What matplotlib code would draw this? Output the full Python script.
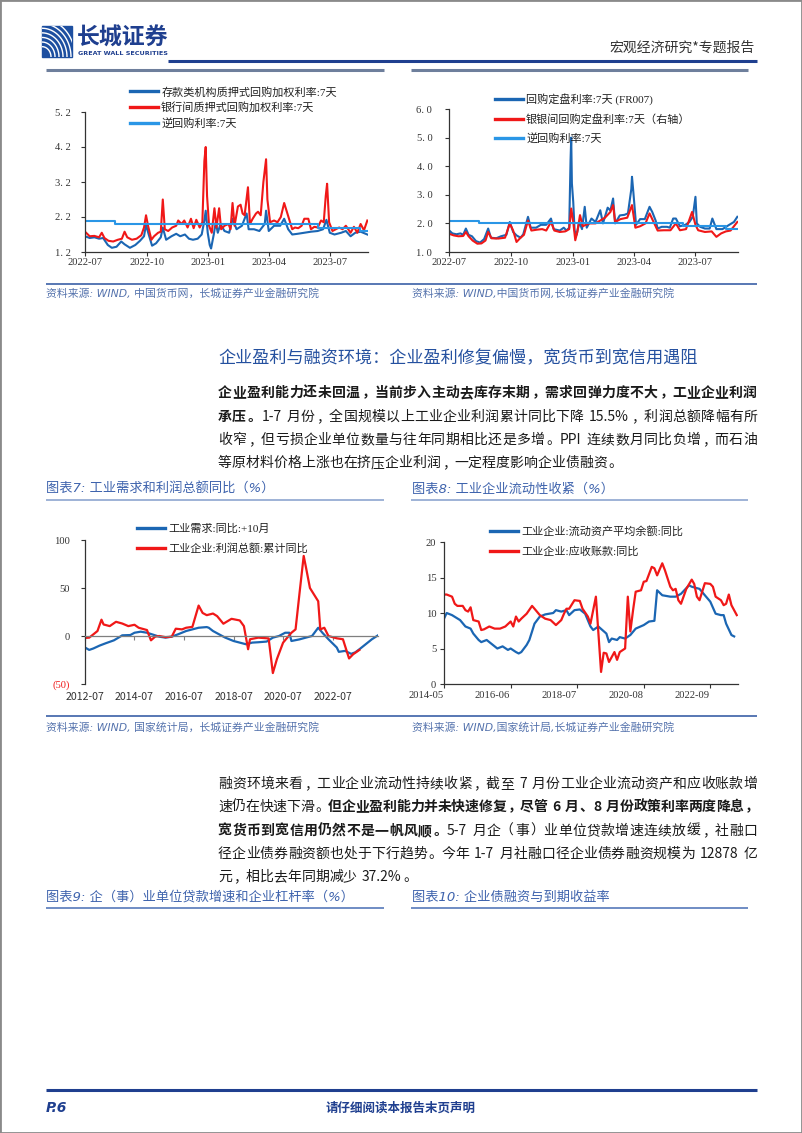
import matplotlib
matplotlib.use('Agg')
import matplotlib.pyplot as plt
import matplotlib.dates as mdates
from matplotlib.patches import Rectangle
from matplotlib.lines import Line2D
from matplotlib.ticker import FuncFormatter
from matplotlib.transforms import ScaledTranslation
import numpy as np
import pandas as pd

# ---------------- data ----------------
# Chart 1: 存款类机构质押式回购加权利率 / 银行间质押式回购加权利率 / 逆回购利率
c1_dr_dates = ['2022-07-01', '2022-07-08', '2022-07-15', '2022-07-22', '2022-07-28', '2022-08-04', '2022-08-10',
               '2022-08-17', '2022-08-24', '2022-08-29', '2022-09-06', '2022-09-14', '2022-09-21', '2022-09-27',
               '2022-09-30', '2022-10-04', '2022-10-09', '2022-10-15', '2022-10-22', '2022-10-25', '2022-10-30',
               '2022-11-07', '2022-11-14', '2022-11-20', '2022-11-27', '2022-12-03', '2022-12-09', '2022-12-16',
               '2022-12-22', '2022-12-26', '2022-12-28', '2022-12-31', '2023-01-03', '2023-01-05', '2023-01-09',
               '2023-01-12', '2023-01-15', '2023-01-19', '2023-01-25', '2023-02-01', '2023-02-06', '2023-02-12',
               '2023-02-20', '2023-02-27', '2023-03-02', '2023-03-10', '2023-03-18', '2023-03-26', '2023-03-28',
               '2023-04-01', '2023-04-09', '2023-04-18', '2023-04-24', '2023-04-30', '2023-05-06', '2023-05-14',
               '2023-05-24', '2023-06-03', '2023-06-13', '2023-06-21', '2023-06-26', '2023-07-01', '2023-07-08',
               '2023-07-18', '2023-07-25', '2023-08-01', '2023-08-08', '2023-08-16', '2023-08-26']
c1_dr_vals = [1.65, 1.60, 1.62, 1.58, 1.60, 1.40, 1.32,
              1.35, 1.50, 1.42, 1.32, 1.40, 1.52, 1.65,
              1.98, 1.70, 1.38, 1.45, 1.62, 1.90, 1.55,
              1.65, 1.72, 1.65, 1.70, 1.58, 1.55, 1.58,
              1.70, 2.10, 2.38, 1.75, 1.40, 1.30, 1.70,
              2.05, 1.75, 2.00, 1.80, 1.75, 2.15, 1.85,
              1.95, 2.30, 1.85, 1.85, 1.80, 2.00, 2.38,
              1.80, 1.95, 1.95, 2.15, 1.85, 1.70, 1.72,
              1.75, 1.78, 1.80, 1.85, 2.12, 1.75, 1.70,
              1.75, 1.80, 1.65, 1.75, 1.78, 1.70]

c1_r_dates = ['2022-07-01', '2022-07-08', '2022-07-15', '2022-07-22', '2022-07-26', '2022-07-30', '2022-08-05',
              '2022-08-12', '2022-08-19', '2022-08-25', '2022-08-29', '2022-09-02', '2022-09-09', '2022-09-16',
              '2022-09-23', '2022-09-27', '2022-09-30', '2022-10-03', '2022-10-08', '2022-10-12', '2022-10-18',
              '2022-10-22', '2022-10-25', '2022-10-28', '2022-11-02', '2022-11-08', '2022-11-14', '2022-11-17',
              '2022-11-22', '2022-11-26', '2022-12-01', '2022-12-06', '2022-12-10', '2022-12-14', '2022-12-19',
              '2022-12-23', '2022-12-26', '2022-12-28', '2022-12-30', '2023-01-02', '2023-01-06', '2023-01-10',
              '2023-01-13', '2023-01-17', '2023-01-20', '2023-01-25', '2023-01-31', '2023-02-03', '2023-02-06',
              '2023-02-09', '2023-02-14', '2023-02-18', '2023-02-21', '2023-02-24', '2023-03-01', '2023-03-04',
              '2023-03-08', '2023-03-13', '2023-03-16', '2023-03-20', '2023-03-24', '2023-03-28', '2023-03-30',
              '2023-04-03', '2023-04-09', '2023-04-14', '2023-04-19', '2023-04-24', '2023-04-28', '2023-05-02',
              '2023-05-06', '2023-05-10', '2023-05-15', '2023-05-20', '2023-05-24', '2023-05-30', '2023-06-03',
              '2023-06-08', '2023-06-13', '2023-06-18', '2023-06-22', '2023-06-25', '2023-06-27', '2023-06-30',
              '2023-07-05', '2023-07-10', '2023-07-15', '2023-07-20', '2023-07-25', '2023-08-01', '2023-08-06',
              '2023-08-11', '2023-08-16', '2023-08-21', '2023-08-26']
c1_r_vals = [1.78, 1.65, 1.66, 1.62, 1.75, 1.60, 1.52,
             1.50, 1.55, 1.58, 1.78, 1.62, 1.55, 1.58,
             1.68, 1.90, 2.25, 1.95, 1.55, 1.65, 1.75,
             1.78, 2.70, 1.85, 1.80, 1.90, 1.95, 2.10,
             2.00, 2.10, 1.90, 2.15, 1.88, 2.12, 1.90,
             2.05, 3.80, 4.20, 2.80, 1.95, 1.75, 2.45,
             1.90, 2.45, 1.85, 1.95, 2.00, 1.85, 2.60,
             1.95, 2.50, 2.55, 2.30, 2.25, 3.05, 2.00,
             2.15, 2.30, 2.35, 2.25, 3.20, 3.85, 2.70,
             2.05, 2.10, 2.05, 2.20, 2.60, 2.35, 2.10,
             1.85, 1.90, 1.88, 1.95, 2.15, 2.15, 1.85,
             1.92, 1.90, 2.10, 2.05, 2.80, 3.15, 2.05,
             1.80, 1.85, 1.90, 1.85, 1.95, 1.75, 1.92,
             1.75, 2.00, 1.82, 2.10]

policy_dates = ['2022-07-01', '2022-08-15', '2023-06-13', '2023-08-15', '2023-09-02']
policy_vals = [2.1, 2.0, 1.9, 1.8, 1.8]

# Chart 2: 回购定盘利率 FR007 / 银银间回购定盘利率
c2_fr_dates = ['2022-07-01', '2022-07-06', '2022-07-12', '2022-07-18', '2022-07-22', '2022-07-26', '2022-07-30',
               '2022-08-04', '2022-08-10', '2022-08-16', '2022-08-22', '2022-08-28', '2022-09-01', '2022-09-09',
               '2022-09-16', '2022-09-24', '2022-09-29', '2022-10-04', '2022-10-09', '2022-10-15', '2022-10-19',
               '2022-10-26', '2022-10-30', '2022-11-07', '2022-11-14', '2022-11-22', '2022-11-29', '2022-12-03',
               '2022-12-12', '2022-12-18', '2022-12-22', '2022-12-26', '2022-12-28', '2022-12-29', '2022-12-30',
               '2023-01-01', '2023-01-03', '2023-01-06', '2023-01-10', '2023-01-14', '2023-01-18', '2023-01-21',
               '2023-01-28', '2023-02-03', '2023-02-10', '2023-02-14', '2023-02-21', '2023-02-25', '2023-03-01',
               '2023-03-04', '2023-03-11', '2023-03-18', '2023-03-23', '2023-03-28', '2023-03-29', '2023-03-31',
               '2023-04-04', '2023-04-10', '2023-04-17', '2023-04-24', '2023-04-28', '2023-05-03', '2023-05-06',
               '2023-05-12', '2023-05-20', '2023-05-24', '2023-05-29', '2023-06-02', '2023-06-08', '2023-06-16',
               '2023-06-22', '2023-06-27', '2023-07-01', '2023-07-03', '2023-07-08', '2023-07-15', '2023-07-22',
               '2023-07-26', '2023-08-01', '2023-08-10', '2023-08-20', '2023-08-27', '2023-09-01']
c2_fr_vals = [1.76, 1.65, 1.62, 1.65, 1.60, 1.82, 1.60,
              1.55, 1.38, 1.33, 1.45, 1.82, 1.50, 1.48,
              1.55, 1.60, 2.05, 1.70, 1.58, 1.50, 1.62,
              2.23, 1.85, 1.85, 1.95, 1.95, 2.17, 1.80,
              1.75, 1.85, 1.75, 1.85, 4.20, 5.00, 3.40,
              2.75, 1.75, 1.60, 2.05, 1.80, 2.58, 1.85,
              2.17, 2.05, 2.46, 2.00, 2.55, 2.45, 2.87,
              2.00, 2.28, 2.30, 2.35, 3.20, 3.63, 3.10,
              1.95, 2.15, 2.15, 2.58, 2.40, 2.10, 1.82,
              1.88, 1.88, 1.85, 2.17, 2.17, 1.90, 1.95,
              2.05, 2.23, 2.93, 2.00, 1.88, 1.82, 1.82,
              2.17, 1.80, 1.80, 1.95, 2.05, 2.23]

c2_dr_dates = ['2022-07-01', '2022-07-08', '2022-07-15', '2022-07-22', '2022-07-26', '2022-07-30', '2022-08-05',
               '2022-08-12', '2022-08-18', '2022-08-24', '2022-08-28', '2022-09-02', '2022-09-12', '2022-09-22',
               '2022-09-29', '2022-10-04', '2022-10-09', '2022-10-15', '2022-10-20', '2022-10-26', '2022-10-31',
               '2022-11-08', '2022-11-16', '2022-11-22', '2022-11-29', '2022-12-04', '2022-12-12', '2022-12-20',
               '2022-12-26', '2022-12-29', '2023-01-01', '2023-01-04', '2023-01-07', '2023-01-11', '2023-01-15',
               '2023-01-24', '2023-02-03', '2023-02-10', '2023-02-17', '2023-02-25', '2023-03-01', '2023-03-04',
               '2023-03-12', '2023-03-22', '2023-03-29', '2023-04-03', '2023-04-10', '2023-04-18', '2023-04-24',
               '2023-05-03', '2023-05-06', '2023-05-15', '2023-05-25', '2023-06-02', '2023-06-08', '2023-06-17',
               '2023-06-26', '2023-07-01', '2023-07-05', '2023-07-15', '2023-07-25', '2023-08-01', '2023-08-08',
               '2023-08-15', '2023-08-22', '2023-09-01']
c2_dr_vals = [1.64, 1.58, 1.55, 1.56, 1.70, 1.55, 1.40,
              1.29, 1.30, 1.40, 1.70, 1.48, 1.47, 1.50,
              2.00, 1.75, 1.35, 1.50, 1.60, 2.10, 1.75,
              1.78, 1.80, 1.75, 2.05, 1.75, 1.70, 1.72,
              1.80, 2.52, 2.05, 1.41, 1.70, 2.29, 1.90,
              2.00, 2.00, 2.10, 2.20, 2.40, 2.64, 2.05,
              2.15, 2.20, 2.64, 1.85, 1.90, 2.00, 2.35,
              1.90, 1.75, 1.76, 1.76, 2.00, 1.76, 1.80,
              2.40, 1.95, 1.76, 1.70, 1.72, 1.53, 1.65,
              1.72, 1.75, 2.05]

# Chart 3: 工业需求:同比:+10月 / 工业企业:利润总额:累计同比
c3_demand_dates = ['2012-07', '2012-09', '2012-11', '2013-02', '2013-05', '2013-09', '2013-12', '2014-01',
                   '2014-05', '2014-07', '2014-10', '2015-01', '2015-04', '2015-07', '2015-10', '2016-01',
                   '2016-04', '2016-08', '2016-11', '2017-02', '2017-06', '2017-07', '2017-09', '2017-12',
                   '2018-03', '2018-07', '2018-10', '2019-01', '2019-04', '2019-07', '2019-11', '2020-02',
                   '2020-05', '2020-08', '2020-10', '2020-11', '2021-03', '2021-06', '2021-09', '2021-12',
                   '2022-02', '2022-05', '2022-09', '2022-10', '2023-01', '2023-04', '2023-06', '2023-08',
                   '2023-11', '2024-02', '2024-05']
c3_demand_vals = [-12, -14.5, -13, -10, -7.6, -4.5, -0.7, 0.7,
                  1, 3.4, 4.5, 3.4, 1.4, -0.7, -1.7, -0.7,
                  1.7, 5.2, 6.9, 8.6, 9.3, 8.6, 5.2, 1.7,
                  -1.7, -5.2, -6.9, -8.6, -6.9, -6.5, -5.8, -1.7,
                  0, 3.4, 3.4, -5.2, -3.5, -1.7, 0, 8.6,
                  3.4, -3.4, -12, -16.5, -15.5, -18.6, -17, -13.8,
                  -8.6, -3.4, 0.7]

c3_profit_dates = ['2012-07', '2012-09', '2012-11', '2013-01', '2013-03', '2013-04', '2013-07', '2013-10',
                   '2014-01', '2014-04', '2014-07', '2014-09', '2015-01', '2015-03', '2015-05', '2015-07',
                   '2015-10', '2016-01', '2016-03', '2016-06', '2016-08', '2016-11', '2017-02', '2017-04',
                   '2017-06', '2017-09', '2017-11', '2018-02', '2018-06', '2018-10', '2018-12', '2019-02',
                   '2019-03', '2019-07', '2019-12', '2020-02', '2020-04', '2020-07', '2020-11', '2021-01',
                   '2021-03', '2021-05', '2021-06', '2021-08', '2021-12', '2022-01', '2022-03', '2022-05',
                   '2022-09', '2022-12', '2023-03', '2023-05', '2023-08']
c3_profit_vals = [-2, -1.7, 1.7, 5.2, 17, 12, 10.3, 14.8,
                  13, 10.3, 11.7, 8.6, 6.2, -4.5, -0.7, 0,
                  -1.2, -0.7, 7.6, 6.9, 8.6, 9.5, 31.7, 24,
                  21.7, 23.4, 20.7, 12.8, 17.9, 16.2, 10.3, -13.8,
                  -3.4, -1.7, -2.5, -38.6, -24, -6.9, 3.4, 6.9,
                  45, 83.4, 72.4, 50, 36.2, 6.9, 8.6, 0,
                  -2.4, -3.4, -23.4, -19, -14.5]

# Chart 4: 工业企业:流动资产平均余额:同比 / 工业企业:应收账款:同比
c4_asset_dates = ['2014-05', '2014-06', '2014-08', '2014-11', '2015-01', '2015-03', '2015-04', '2015-06',
                  '2015-07', '2015-09', '2015-11', '2016-01', '2016-03', '2016-05', '2016-06', '2016-08',
                  '2016-09', '2016-10', '2016-12', '2017-01', '2017-02', '2017-03', '2017-05', '2017-07',
                  '2017-10', '2017-11', '2018-01', '2018-03', '2018-04', '2018-06', '2018-08', '2018-10',
                  '2018-12', '2019-01', '2019-03', '2019-06', '2019-07', '2019-08', '2019-10', '2019-11',
                  '2020-01', '2020-03', '2020-05', '2020-08', '2020-10', '2020-12', '2021-01', '2021-03',
                  '2021-06', '2021-08', '2021-10', '2022-01', '2022-02', '2022-05', '2022-07', '2022-09',
                  '2022-11', '2023-01', '2023-02', '2023-03', '2023-05', '2023-06']
c4_asset_vals = [9.2, 10.0, 9.7, 9.0, 8.1, 7.8, 7.1, 6.2,
                 5.9, 6.2, 5.6, 5.0, 5.3, 4.8, 5.0, 4.5,
                 4.3, 4.5, 5.5, 6.2, 7.4, 8.5, 9.5, 9.8,
                 10.0, 10.4, 10.2, 10.4, 9.7, 10.4, 10.5, 9.9,
                 8.1, 7.6, 8.1, 7.1, 5.9, 6.4, 6.2, 6.6,
                 6.4, 6.9, 7.8, 8.3, 8.8, 8.9, 13.2, 12.5,
                 12.3, 12.3, 12.7, 13.9, 13.7, 13.4, 12.5, 11.6,
                 9.9, 9.7, 9.7, 8.5, 6.9, 6.7]

c4_recv_dates = ['2014-05', '2014-06', '2014-08', '2014-09', '2014-10', '2014-12', '2015-01', '2015-02',
                 '2015-03', '2015-04', '2015-06', '2015-07', '2015-08', '2015-10', '2015-12', '2016-02',
                 '2016-04', '2016-06', '2016-07', '2016-08', '2016-09', '2016-10', '2016-12', '2017-02',
                 '2017-03', '2017-05', '2017-07', '2017-09', '2017-11', '2018-01', '2018-02', '2018-03',
                 '2018-04', '2018-06', '2018-08', '2018-09', '2018-11', '2018-12', '2019-02', '2019-04',
                 '2019-05', '2019-06', '2019-07', '2019-09', '2019-10', '2019-11', '2020-01', '2020-02',
                 '2020-03', '2020-04', '2020-05', '2020-07', '2020-08', '2020-09', '2020-11', '2020-12',
                 '2021-01', '2021-03', '2021-04', '2021-06', '2021-07', '2021-08', '2021-09', '2021-10',
                 '2021-12', '2022-02', '2022-03', '2022-04', '2022-05', '2022-07', '2022-09', '2022-10',
                 '2022-11', '2023-01', '2023-02', '2023-03', '2023-04', '2023-05', '2023-07']
c4_recv_vals = [12.6, 12.6, 12.3, 11.3, 11.0, 11.0, 10.4, 10.2,
                10.8, 9.0, 8.8, 7.6, 7.7, 8.1, 7.8, 7.8,
                8.1, 8.8, 8.1, 9.5, 8.8, 9.2, 9.9, 11.0,
                10.6, 9.7, 9.2, 9.0, 8.3, 9.0, 9.9, 10.6,
                10.6, 11.8, 11.7, 10.6, 9.5, 8.5, 12.3, 1.7,
                4.4, 4.3, 3.1, 4.5, 3.4, 4.5, 5.0, 12.3,
                7.4, 10.4, 13.0, 13.2, 14.4, 14.5, 16.5, 16.3,
                15.3, 17.0, 16.0, 13.7, 13.2, 13.4, 11.8, 11.3,
                13.4, 14.7, 14.1, 12.3, 11.8, 14.2, 14.1, 13.7,
                12.3, 11.8, 11.1, 11.3, 12.6, 11.1, 9.7]

c1_labels = ['存款类机构质押式回购加权利率:7天', '银行间质押式回购加权利率:7天', '逆回购利率:7天']
c2_labels = ['回购定盘利率:7天 (FR007)', '银银间回购定盘利率:7天（右轴）', '逆回购利率:7天']
c3_labels = ['工业需求:同比:+10月', '工业企业:利润总额:累计同比']
c4_labels = ['工业企业:流动资产平均余额:同比', '工业企业:应收账款:同比']
c3_yticks = [-50, 0, 50, 100]
c3_yticklabels = ['(50)', '0', '50', '100']
c4_xticks = ['2014-05', '2016-06', '2018-07', '2020-08', '2022-09']

# ---------------- figure ----------------
W, H = 802, 1133
plt.rcParams['font.family'] = ['Noto Sans CJK SC', 'DejaVu Sans']
plt.rcParams['axes.unicode_minus'] = False
fig = plt.figure(figsize=(W / 100, H / 100), dpi=100)
renderer = fig.canvas.get_renderer()

DARK_BLUE = '#1b66b3'
RED = '#f01818'
LIGHT_BLUE = '#2a96e6'
NAVY = '#1f3f8f'
BODY = '#1a1a1a'
CAP = '#3e63ad'
SRC = '#5573ad'
TICK_FONT = ['Liberation Serif', 'Noto Sans CJK SC']
BODY_FONT = ['Noto Sans CJK SC', 'DejaVu Sans']


def fx(x):
    return x / W


def fy(y):
    return 1 - y / H


def add_ax(l, t, r, b):
    return fig.add_axes([fx(l), fy(b), (r - l) / W, (b - t) / H])


def hline(x0, x1, y, color, lw):
    fig.add_artist(Line2D([fx(x0), fx(x1)], [fy(y), fy(y)], color=color, lw=lw, solid_capstyle='butt'))


def ftext(x, y, s, **kw):
    kw.setdefault('va', 'center')
    return fig.text(fx(x), fy(y), s, **kw)


# page border
fig.add_artist(Rectangle((0, 0), 1, 1, transform=fig.transFigure, fill=False, ec='#8a8a8a', lw=2.0))

# ---------------- header ----------------
logo = Rectangle((fx(42), fy(57)), 30 / W, 31 / H, transform=fig.transFigure, color='#1d4fa0')
fig.add_artist(logo)
for k in range(7):
    r = 9 + 4 * k
    th = np.linspace(0, np.pi / 2, 40)
    xs = 42 + r * np.cos(th)
    ys = 57 - r * np.sin(th) * 1.15
    ln = Line2D(fx(xs), fy(ys), color='white', lw=1.0, transform=fig.transFigure)
    fig.add_artist(ln)
    ln.set_clip_path(logo)
ftext(77, 38, '长城证券', fontsize=16.5, fontweight='bold', color=NAVY, ha='left')
ftext(78, 53.5, 'GREAT WALL SECURITIES', fontsize=4.6, fontweight='bold', color=NAVY, ha='left',
      family=['DejaVu Sans'])
ftext(755, 48, '宏观经济研究*专题报告', fontsize=10, color='#333333', ha='right')
hline(168, 757, 60.5, NAVY, 2.2)
hline(46, 384, 70, '#6e7f9c', 2.2)
hline(411, 748, 70, '#6e7f9c', 2.2)


def style_axes(ax):
    for s in ['top', 'right']:
        ax.spines[s].set_visible(False)
    for s in ['left', 'bottom']:
        ax.spines[s].set_color('#333333')
        ax.spines[s].set_linewidth(0.9)
    ax.tick_params(direction='out', length=3, width=0.8, colors='#333333', labelsize=7.6)
    for lab in ax.get_xticklabels() + ax.get_yticklabels():
        lab.set_family(TICK_FONT)


def legend(ax, x, ytop, spacing, hl=2.5):
    leg = ax.legend(loc='upper left', bbox_to_anchor=(fx(x), fy(ytop)), bbox_transform=fig.transFigure,
                    frameon=False, prop={'family': TICK_FONT, 'size': 8}, handlelength=hl,
                    handletextpad=0.3, labelspacing=spacing, borderpad=0, borderaxespad=0)
    for l in leg.get_lines():
        l.set_linewidth(2.4)
    for t in leg.get_texts():
        t.set_color('#222222')
    return leg


dot_fmt = FuncFormatter(lambda v, p: f'{v:.1f}'.replace('.', '. '))

# ---------------- chart 1 ----------------
ax1 = add_ax(85, 112, 368, 252)
ax1.plot(pd.to_datetime(c1_dr_dates), c1_dr_vals, color=DARK_BLUE, lw=1.5, label=c1_labels[0])
ax1.plot(pd.to_datetime(c1_r_dates), c1_r_vals, color=RED, lw=1.5, label=c1_labels[1])
ax1.step(pd.to_datetime(policy_dates), policy_vals, where='post', color=LIGHT_BLUE, lw=1.5, label=c1_labels[2])
ax1.set_xlim(pd.Timestamp('2022-07-01'), pd.Timestamp('2023-08-27'))
ax1.set_ylim(1.2, 5.2)
ax1.set_yticks([1.2, 2.2, 3.2, 4.2, 5.2])
ax1.yaxis.set_major_formatter(dot_fmt)
ax1.xaxis.set_major_locator(mdates.MonthLocator(bymonth=[1, 4, 7, 10]))
ax1.xaxis.set_major_formatter(mdates.DateFormatter('%Y-%m'))
ax1.tick_params(axis='y', pad=7)
ax1.tick_params(axis='x', pad=1.5)
style_axes(ax1)
legend(ax1, 130, 86.5, 0.42)

# ---------------- chart 2 ----------------
ax2 = add_ax(449, 109, 738, 252)
ax2.plot(pd.to_datetime(c2_fr_dates), c2_fr_vals, color=DARK_BLUE, lw=1.5, label=c2_labels[0])
ax2.plot(pd.to_datetime(c2_dr_dates), c2_dr_vals, color=RED, lw=1.5, label=c2_labels[1])
ax2.step(pd.to_datetime(policy_dates), policy_vals, where='post', color=LIGHT_BLUE, lw=1.5, label=c2_labels[2])
ax2.set_xlim(pd.Timestamp('2022-07-01'), pd.Timestamp('2023-09-02'))
ax2.set_ylim(1.0, 6.0)
ax2.set_yticks([1, 2, 3, 4, 5, 6])
ax2.yaxis.set_major_formatter(dot_fmt)
ax2.xaxis.set_major_locator(mdates.MonthLocator(bymonth=[1, 4, 7, 10]))
ax2.xaxis.set_major_formatter(mdates.DateFormatter('%Y-%m'))
ax2.tick_params(axis='y', pad=9)
ax2.tick_params(axis='x', pad=1.5)
style_axes(ax2)
legend(ax2, 495, 93.5, 0.75)

# sources 1
hline(46, 757, 284, '#4a6cae', 1.3)
ftext(46, 293, '资料来源: WIND, 中国货币网，长城证券产业金融研究院', fontsize=7.8, color=SRC, ha='left',
      family=['DejaVu Sans', 'Noto Sans CJK SC'], style='italic')
ftext(412, 293, '资料来源: WIND,中国货币网,长城证券产业金融研究院', fontsize=7.8, color=SRC, ha='left',
      family=['DejaVu Sans', 'Noto Sans CJK SC'], style='italic')

# ---------------- body text ----------------
PUNCT_LEFT = set('，。、：；）！？”’')
PUNCT_RIGHT = set('（“‘')


def tokenize(segments):
    toks = []
    space = False
    for text, wgt in segments:
        buf = ''
        for ch in text:
            if ch == ' ':
                if buf:
                    toks.append((buf, wgt, space))
                    buf = ''
                    space = False
                space = True
            elif ord(ch) < 128:
                buf += ch
            else:
                if buf:
                    toks.append((buf, wgt, space))
                    buf = ''
                    space = False
                toks.append((ch, wgt, space))
                space = False
        if buf:
            toks.append((buf, wgt, space))
            space = False
    return toks


def body_line(yc, segments, x0=218, x1=757, size=10.0, color=BODY, justify=True):
    em = size * 100 / 72
    yb = yc + 0.36 * em
    items = []
    for s, wgt, sp in tokenize(segments):
        if ord(s[0]) >= 128:
            items.append([s, wgt, sp, em, None])
        else:
            t = fig.text(0, fy(yb), s, fontsize=size, fontweight=wgt, color=color, family=BODY_FONT,
                         va='baseline', ha='left')
            adv = t.get_window_extent(renderer).width + 0.14 * em
            items.append([s, wgt, sp, adv, t])
    sp_w = 0.28 * em
    natural = sum(it[3] for it in items) + sp_w * sum(1 for it in items if it[2])
    n = len(items) - 1
    extra = (x1 - x0 - natural) / n if (justify and n > 0) else 0.0
    x = x0
    for s, wgt, sp, adv, t in items:
        if sp:
            x += sp_w
        if t is not None:
            t.set_x(fx(x + 0.07 * em))
        else:
            if s in PUNCT_LEFT:
                xx, ha = x + 0.1 * em, 'left'
            elif s in PUNCT_RIGHT:
                xx, ha = x + adv - 0.1 * em, 'right'
            else:
                xx, ha = x + adv / 2, 'center'
            fig.text(fx(xx), fy(yb), s, fontsize=size, fontweight=wgt, color=color, family=BODY_FONT,
                     va='baseline', ha=ha)
        x += adv + extra


ftext(218, 358, '企业盈利与融资环境：企业盈利修复偏慢，宽货币到宽信用遇阻', fontsize=12.3, color='#24509f',
      ha='left')

body_line(392, [('企业盈利能力还未回温，当前步入主动去库存末期，需求回弹力度不大，工业企业利润', 'bold')])
body_line(416, [('承压。', 'bold'), ('1-7 月份，全国规模以上工业企业利润累计同比下降 15.5%，利润总额降幅有所', 'normal')])
body_line(439, [('收窄，但亏损企业单位数量与往年同期相比还是多增。PPI 连续数月同比负增，而石油', 'normal')])
body_line(462, [('等原材料价格上涨也在挤压企业利润，一定程度影响企业债融资。', 'normal')], justify=False)

# captions 7/8
CAP_FONT = ['DejaVu Sans', 'Noto Sans CJK SC']
ftext(46, 489, '图表7: 工业需求和利润总额同比（%）', fontsize=9.5, color=CAP, ha='left', family=CAP_FONT,
      style='italic')
ftext(412, 489, '图表8: 工业企业流动性收紧（%）', fontsize=9.5, color=CAP, ha='left', family=CAP_FONT,
      style='italic')
hline(46, 384, 500, '#8ea6cf', 1.2)
hline(411, 748, 500, '#8ea6cf', 1.2)

# ---------------- chart 3 ----------------
ax3 = add_ax(85, 540, 378, 684)
ax3.plot(pd.to_datetime(c3_demand_dates), c3_demand_vals, color=DARK_BLUE, lw=1.6, label=c3_labels[0])
ax3.plot(pd.to_datetime(c3_profit_dates), c3_profit_vals, color=RED, lw=1.6, label=c3_labels[1])
ax3.set_xlim(pd.Timestamp('2012-07-01'), pd.Timestamp('2024-05-01'))
ax3.set_ylim(-50, 100)
ax3.set_yticks(c3_yticks)
ax3.set_yticklabels(c3_yticklabels)
ax3.xaxis.set_major_locator(mdates.YearLocator(base=2, month=7))
ax3.xaxis.set_major_formatter(mdates.DateFormatter('%Y-%m'))
style_axes(ax3)
ax3.spines['bottom'].set_position(('data', 0))
ax3.spines['bottom'].set_color('#7f7f7f')
ax3.tick_params(axis='x', pad=37, color='#7f7f7f')
ax3.tick_params(axis='y', pad=8)
ax3.get_yticklabels()[0].set_color(RED)
legend(ax3, 137, 523.5, 0.8)

# ---------------- chart 4 ----------------
ax4 = add_ax(444, 542, 738, 684)
ax4.plot(pd.to_datetime(c4_asset_dates), c4_asset_vals, color=DARK_BLUE, lw=1.6, label=c4_labels[0])
ax4.plot(pd.to_datetime(c4_recv_dates), c4_recv_vals, color=RED, lw=1.6, label=c4_labels[1])
ax4.set_xlim(pd.Timestamp('2014-05-01'), pd.Timestamp('2023-07-15'))
ax4.set_ylim(0, 20)
ax4.set_yticks([0, 5, 10, 15, 20])
ax4.set_xticks(pd.to_datetime(c4_xticks))
ax4.xaxis.set_major_formatter(mdates.DateFormatter('%Y-%m'))
style_axes(ax4)
ax4.tick_params(axis='y', pad=2.5)
ax4.tick_params(axis='x', pad=2)
for lab in ax4.get_xticklabels():
    lab.set_transform(lab.get_transform() + ScaledTranslation(-18 / 100, 0, fig.dpi_scale_trans))
legend(ax4, 490, 526.5, 0.8)

# sources 2
hline(46, 757, 716, '#4a6cae', 1.3)
ftext(46, 727, '资料来源: WIND, 国家统计局，长城证券产业金融研究院', fontsize=7.8, color=SRC, ha='left',
      family=['DejaVu Sans', 'Noto Sans CJK SC'], style='italic')
ftext(412, 727, '资料来源: WIND,国家统计局,长城证券产业金融研究院', fontsize=7.8, color=SRC, ha='left',
      family=['DejaVu Sans', 'Noto Sans CJK SC'], style='italic')

# paragraph 2
body_line(783, [('融资环境来看，工业企业流动性持续收紧，截至 7 月份工业企业流动资产和应收账款增', 'normal')])
body_line(806, [('速仍在快速下滑。', 'normal'), ('但企业盈利能力并未快速修复，尽管 6 月、8 月份政策利率两度降息，', 'bold')])
body_line(830, [('宽货币到宽信用仍然不是一帆风顺。', 'bold'), ('5-7 月企（事）业单位贷款增速连续放缓，社融口', 'normal')])
body_line(853, [('径企业债券融资额也处于下行趋势。今年 1-7 月社融口径企业债券融资规模为 12878 亿', 'normal')])
body_line(876, [('元，相比去年同期减少 37.2%。', 'normal')], justify=False)

# captions 9/10
ftext(46, 897, '图表9: 企（事）业单位贷款增速和企业杠杆率（%）', fontsize=9.5, color=CAP, ha='left',
      family=CAP_FONT, style='italic')
ftext(412, 897, '图表10: 企业债融资与到期收益率', fontsize=9.5, color=CAP, ha='left', family=CAP_FONT,
      style='italic')
hline(46, 384, 908, '#6f8cc4', 1.4)
hline(411, 748, 908, '#6f8cc4', 1.4)

# ---------------- footer ----------------
hline(46, 757, 1090, NAVY, 2.2)
ftext(46, 1108, 'P.6', fontsize=10, fontweight='bold', style='italic', color=NAVY, ha='left',
      family=['DejaVu Sans'])
ftext(401, 1108, '请仔细阅读本报告末页声明', fontsize=9, fontweight='bold', color=NAVY, ha='center')

fig.savefig('out.png', dpi=100)
